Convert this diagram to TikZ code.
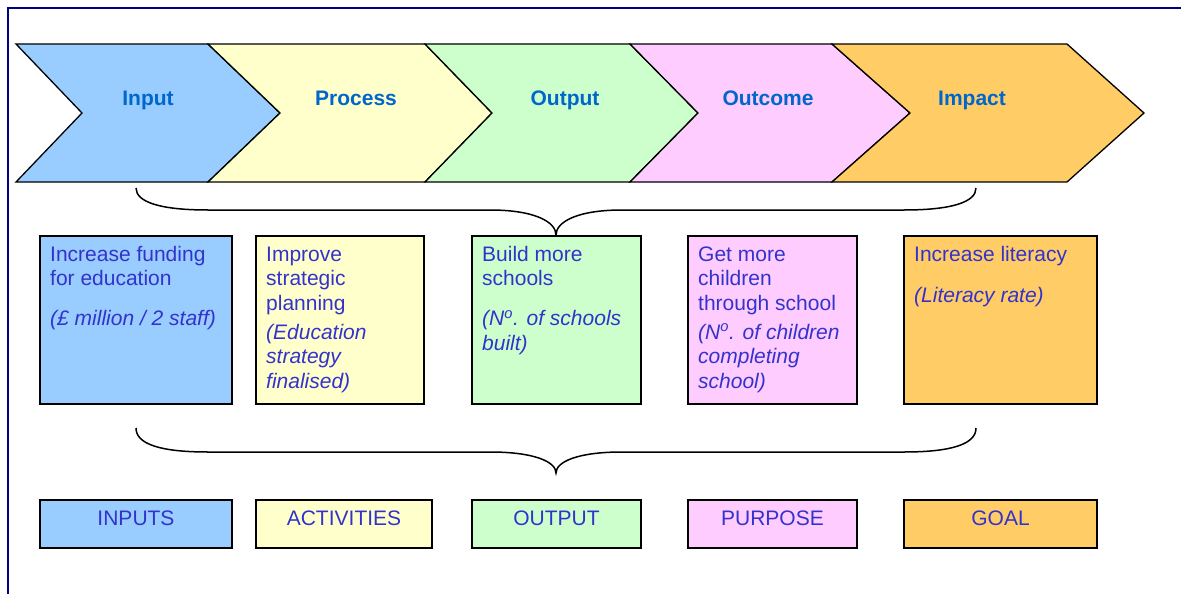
\documentclass[tikz,border=0pt]{standalone}
\usepackage{fontspec}
\setmainfont{Liberation Sans}
\definecolor{navyline}{RGB}{0,0,128}
\definecolor{labelblue}{RGB}{0,102,204}
\definecolor{textblue}{RGB}{51,51,204}
\definecolor{cblue}{RGB}{153,204,255}
\definecolor{cyellow}{RGB}{255,255,204}
\definecolor{cgreen}{RGB}{204,255,204}
\definecolor{cpink}{RGB}{255,204,255}
\definecolor{corange}{RGB}{255,204,102}
\begin{document}
\begin{tikzpicture}[x=1pt,y=-1pt,
  chev/.style={draw=black, line width=1.3pt, line join=miter},
  chevlabel/.style={font=\bfseries\fontsize{21}{24.5}\selectfont, text=labelblue, anchor=base, inner sep=0},
  midbox/.style={draw=black, line width=1.6pt, minimum height=168pt, inner sep=0, outer sep=0},
  bodytext/.style={font=\fontsize{21}{24.5}\selectfont, text=textblue, align=left, anchor=north west, inner sep=0},
  botbox/.style={draw=black, line width=1.6pt, font=\fontsize{21}{24.5}\selectfont, text=textblue,
    text height=17.15pt, text depth=15.15pt, inner ysep=7.85pt, inner xsep=0, outer sep=0},
  brace/.style={draw=black, line width=1.5pt}]

\useasboundingbox (0,0) rectangle (1181,594);
\draw[navyline, line width=2pt] (8,620) -- (8,8) -- (1200,8);

% chevrons
\filldraw[chev, fill=cblue]   (16,44) -- (208,44) -- (280,113) -- (208,182) -- (16,182) -- (82,113) -- cycle;
\filldraw[chev, fill=cyellow] (208,44) -- (425,44) -- (492,113) -- (425,182) -- (208,182) -- (280,113) -- cycle;
\filldraw[chev, fill=cgreen]  (425,44) -- (630,44) -- (698,113) -- (630,182) -- (425,182) -- (492,113) -- cycle;
\filldraw[chev, fill=cpink]   (630,44) -- (832,44) -- (910,113) -- (832,182) -- (630,182) -- (698,113) -- cycle;
\filldraw[chev, fill=corange] (832,44) -- (1067,44) -- (1144,113) -- (1067,182) -- (832,182) -- (910,113) -- cycle;

\node[chevlabel] (lin)  at (148,106) {Input};
\node[chevlabel] (lpro) at (356,106) {Process};
\node[chevlabel] (lout) at (565,106) {Output};
\node[chevlabel] (loc)  at (768,106) {Outcome};
\node[chevlabel] (lim)  at (972,106) {Impact};

% top brace
\coordinate (tbl) at (136,188);
\coordinate (tbr) at (976,188);
\coordinate (tbt) at (556,235);
\draw[brace] (tbl) .. controls (136,202) and (160,210) .. (208,210) -- (490,210)
  .. controls (535,210) and (556,222) .. (tbt)
  .. controls (556,222) and (577,210) .. (622,210) -- (904,210)
  .. controls (952,210) and (976,202) .. (tbr);

% middle boxes
\node[midbox, fill=cblue,   minimum width=192pt] (m1) at (136,320) {};
\node[midbox, fill=cyellow, minimum width=168pt] (m2) at (340,320) {};
\node[midbox, fill=cgreen,  minimum width=169pt] (m3) at (556.5,320) {};
\node[midbox, fill=cpink,   minimum width=169pt] (m4) at (772.5,320) {};
\node[midbox, fill=corange, minimum width=193pt] (m5) at (1000.5,320) {};

\node[bodytext] (t1) at ([xshift=10pt,yshift=-7.85pt]m1.north west)
  {\strut Increase funding\\for education\\[15.5pt]\textit{(£ million / 2 staff)}};
\node[bodytext] (t2) at ([xshift=10pt,yshift=-7.85pt]m2.north west)
  {\strut Improve\\strategic\\planning\\[4.5pt]\textit{(Education}\\\textit{strategy}\\\textit{finalised)}};
\node[bodytext] (t3) at ([xshift=10pt,yshift=-7.85pt]m3.north west)
  {\strut Build more\\schools\\[15.5pt]\textit{(N\textsuperscript{o}. of schools}\\\textit{built)}};
\node[bodytext] (t4) at ([xshift=10pt,yshift=-7.85pt]m4.north west)
  {\strut Get more\\children\\through school\\[4.5pt]\textit{(N\textsuperscript{o}. of children}\\\textit{completing}\\\textit{school)}};
\node[bodytext] (t5) at ([xshift=10pt,yshift=-7.85pt]m5.north west)
  {\strut Increase literacy\\[16.5pt]\textit{(Literacy rate)}};

% bottom brace
\coordinate (bbl) at (136,428);
\coordinate (bbr) at (976,428);
\coordinate (bbt) at (556,473);
\draw[brace] (bbl) .. controls (136,444) and (160,452) .. (208,452) -- (490,452)
  .. controls (535,452) and (556,462) .. (bbt)
  .. controls (556,462) and (577,452) .. (622,452) -- (904,452)
  .. controls (952,452) and (976,444) .. (bbr);

% bottom boxes
\node[botbox, fill=cblue,   minimum width=192pt] (b1) at (136,524) {INPUTS};
\node[botbox, fill=cyellow, minimum width=176pt] (b2) at (344,524) {ACTIVITIES};
\node[botbox, fill=cgreen,  minimum width=169pt] (b3) at (556.5,524) {OUTPUT};
\node[botbox, fill=cpink,   minimum width=169pt] (b4) at (772.5,524) {PURPOSE};
\node[botbox, fill=corange, minimum width=193pt] (b5) at (1000.5,524) {GOAL};
\end{tikzpicture}
\end{document}
